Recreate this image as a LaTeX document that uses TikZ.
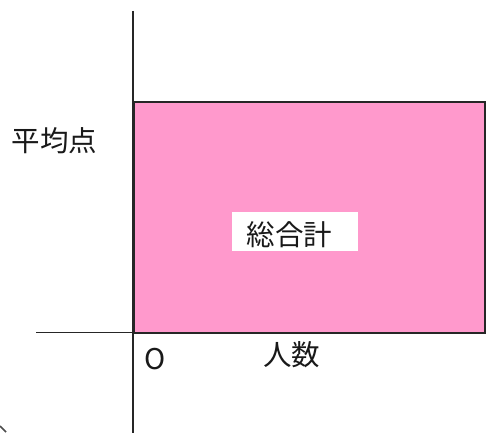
\documentclass[tikz,border=0pt]{standalone}
\usepackage{fontspec}
\setmainfont{Noto Sans CJK JP}
\definecolor{rectpink}{HTML}{FF99CC}
\begin{document}
\begin{tikzpicture}[x=1pt,y=-1pt,
  axis/.style={line width=1.8pt,black!85},
  lbl/.style={font=\fontsize{28.5}{32}\selectfont,inner sep=0pt,text=black!90}]
\useasboundingbox (0,0) rectangle (487,433);
\fill[white] (0,0) rectangle (487,433);
% rectangle
\node[draw=black!85,line width=1.8pt,fill=rectpink,minimum width=351pt,minimum height=231pt,inner sep=0pt,anchor=north west] (area) at (133,101.5) {};
% axes
\coordinate (ytop) at (133,11);
\coordinate (ybot) at (133,433);
\coordinate (xl) at (36,332.5);
\coordinate (xr) at (484,332.5);
\draw[axis] (ytop) -- (ybot);
\draw[axis] (xl) -- (xr);
% label box
\node[fill=white,minimum width=126pt,minimum height=39pt,inner sep=0pt,anchor=north west] (box) at (232,212) {};
\node[lbl,anchor=west] (total) at (246.5,235) {総合計};
\node[lbl] (avg) at (54.5,141) {平均点};
\node[lbl] (num) at (291.5,355) {人数};
\node[lbl] (orig) at (155.5,359.5) {O};
% small mark
\coordinate (m1) at (0,426);
\coordinate (m2) at (6,432);
\draw[line width=1.5pt,black!70] (m1) -- (m2);
\end{tikzpicture}
\end{document}
